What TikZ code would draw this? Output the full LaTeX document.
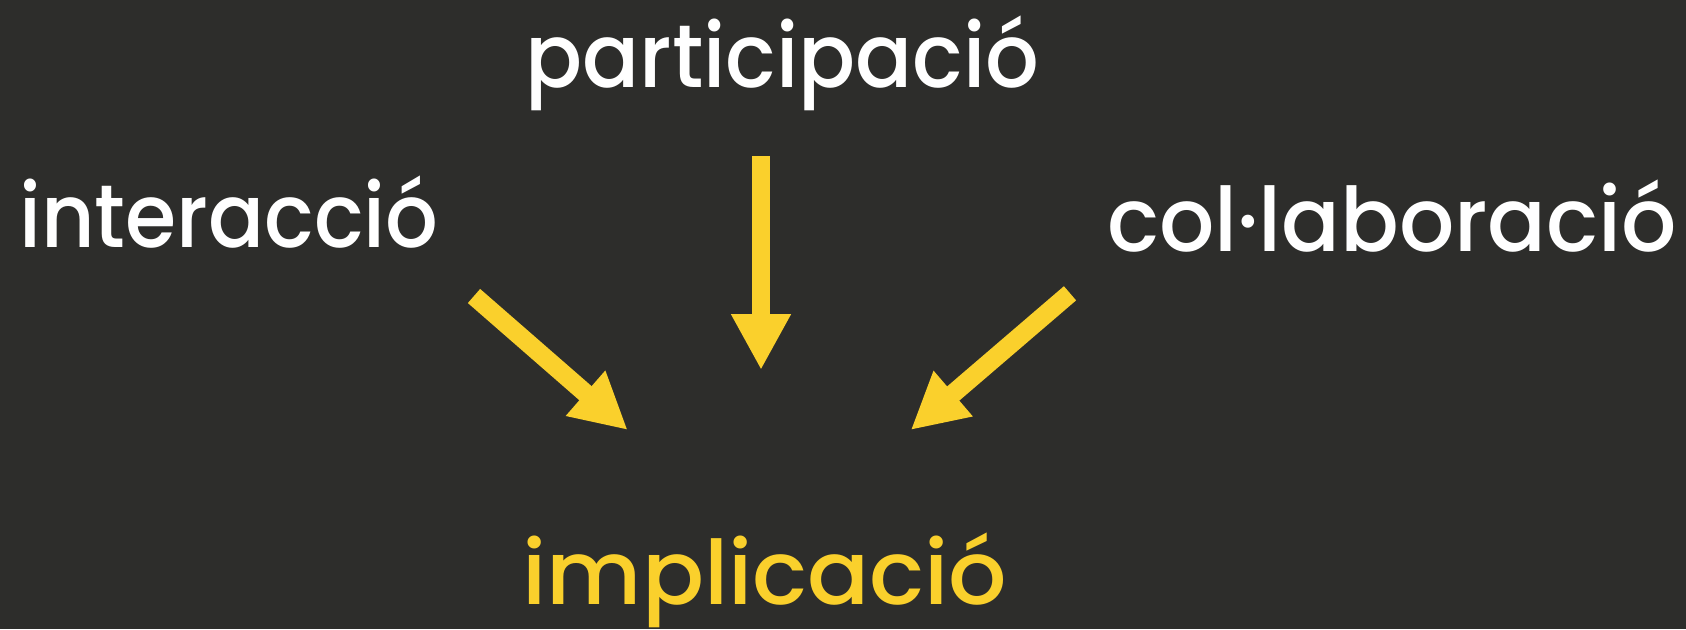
\documentclass[tikz,border=0pt]{standalone}
\usepackage{graphicx}
\usepackage{fontspec}
\setmainfont{Poppins Medium}
\usetikzlibrary{arrows.meta}
\definecolor{bg}{RGB}{45,45,43}
\definecolor{gold}{RGB}{250,208,44}
\newcommand\wordfont{\fontsize{89}{100}\selectfont}
\begin{document}
\begin{tikzpicture}[x=1pt,y=-1pt,
  word/.style={inner sep=0pt, anchor=base, text=white, font=\wordfont},
  flow/.style={draw=gold, line width=18.7pt, -{Triangle[width=56pt,length=56pt]}}]
\fill[bg] (0,0) rectangle (1686,629);
\useasboundingbox (0,0) rectangle (1686,629);
\node[word] (part) at (782.5,87) {\scalebox{0.947}[1]{participació}};
\node[word] (inter) at (229,247) {\scalebox{0.93}[1]{interacció}};
\node[word] (colla) at (1392,251) {\scalebox{0.975}[1]{col·laboració}};
\node[word, text=gold] (impl) at (765,604) {\scalebox{1.03}[1]{implicació}};
\coordinate (tl) at (474,296);
\coordinate (hl) at (627.7,430);
\coordinate (tm) at (761,156);
\coordinate (hm) at (761,370);
\coordinate (tr) at (1070,293.3);
\coordinate (hr) at (910.7,430);
\draw[flow] (tl) -- (hl);
\draw[flow] (tm) -- (hm);
\draw[flow] (tr) -- (hr);
\end{tikzpicture}
\end{document}
